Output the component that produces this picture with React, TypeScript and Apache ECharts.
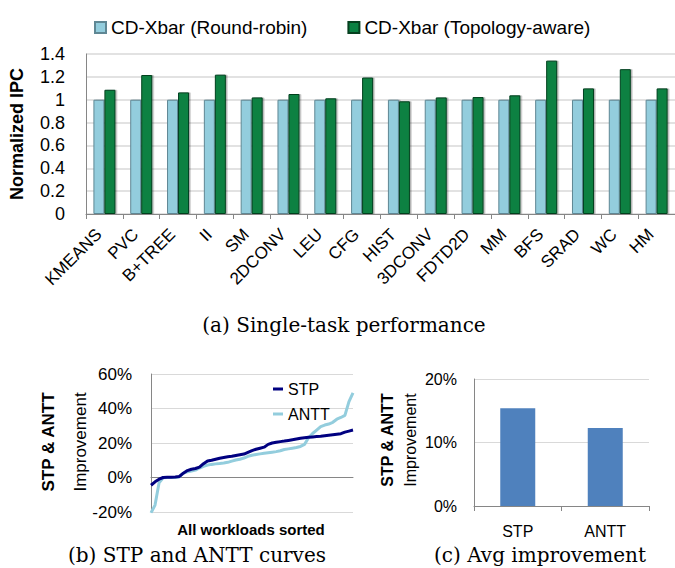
import React, { useEffect, useRef } from 'react';
import * as echarts from 'echarts';

const benchmarks = ['KMEANS', 'PVC', 'B+TREE', 'II', 'SM', '2DCONV', 'LEU', 'CFG', 'HIST', '3DCONV', 'FDTD2D', 'MM', 'BFS', 'SRAD', 'WC', 'HM'];
const roundRobin = [1, 1, 1, 1, 1, 1, 1, 1, 1, 1, 1, 1, 1, 1, 1, 1];
const topologyAware = [1.087, 1.216, 1.064, 1.219, 1.02, 1.05, 1.012, 1.194, 0.986, 1.02, 1.023, 1.038, 1.342, 1.099, 1.267, 1.099];

const stpCurve = [-4.5, -2.5, -1, 0, 0.1, 0.2, 0.3, 0.6, 2.5, 4, 4.8, 5.2, 6, 8, 9.6, 10, 10.6, 11.2, 11.6, 12, 12.3, 12.8, 13.2, 13.6, 14.6, 15.6, 16.4, 17, 17.6, 19.2, 20, 20.4, 20.8, 21.1, 21.5, 21.9, 22.3, 22.7, 23, 23.3, 23.5, 23.7, 23.9, 24.2, 24.5, 24.8, 25.1, 25.4, 26.3, 26.9, 27.5];
const anttCurve = [-20.5, -16, -3, -0.2, 0, 0, 0, 0.3, 2.5, 3.3, 3.8, 4.3, 5.5, 6.5, 7.2, 7.6, 7.9, 8.1, 8.4, 8.8, 9.5, 10.1, 10.6, 11.3, 12.3, 12.9, 13.3, 13.7, 14.1, 14.4, 14.7, 15, 15.5, 16.2, 16.6, 17, 17.4, 18, 19.2, 23, 25.5, 27.5, 29.5, 30.4, 31, 32, 33.8, 34.8, 36, 44, 49];

const avgCategories = ['STP', 'ANTT'];
const avgImprovement = [15.4, 12.3];

const SANS = 'Liberation Sans';
const SERIF = 'DejaVu Serif';
const AXIS_GRAY = '#868686';
const GRID_GRAY = '#d9d9d9';

export default function App() {
  const ref = useRef<HTMLDivElement>(null);

  useEffect(() => {
    document.body.style.margin = '0';
    const chart = echarts.init(ref.current!, null, { renderer: 'svg' });
    const workloads = stpCurve.map((_, i) => String(i + 1));

    const option: any = {
      animation: false,
      backgroundColor: '#ffffff',
      textStyle: { fontFamily: SANS, color: '#000' },
      legend: [
        {
          data: ['CD-Xbar (Round-robin)', 'CD-Xbar (Topology-aware)'],
          left: 89,
          top: 13,
          icon: 'rect',
          itemWidth: 11,
          itemHeight: 11,
          itemGap: 40,
          textStyle: { fontSize: 19, fontFamily: SANS, color: '#000' },
        },
        {
          data: ['STP', 'ANTT'],
          orient: 'vertical',
          left: 268,
          top: 376,
          icon: 'rect',
          itemWidth: 10,
          itemHeight: 3,
          itemGap: 9,
          textStyle: { fontSize: 16, fontFamily: SANS, color: '#000' },
        },
      ],
      grid: [
        { left: 85, top: 54, width: 592, height: 160 },
        { left: 151, top: 374, width: 202, height: 138 },
        { left: 474, top: 379, width: 175, height: 127 },
      ],
      xAxis: [
        {
          gridIndex: 0,
          type: 'category',
          data: benchmarks,
          axisLine: { lineStyle: { color: AXIS_GRAY, width: 1 } },
          axisTick: { show: true, length: 5, lineStyle: { color: AXIS_GRAY } },
          axisLabel: { rotate: 45, interval: 0, fontSize: 17, margin: 12, padding: [0, 8, 0, 0], color: '#000', fontFamily: SANS },
        },
        {
          gridIndex: 1,
          type: 'category',
          data: workloads,
          boundaryGap: false,
          axisLine: { onZero: true, lineStyle: { color: AXIS_GRAY, width: 1 } },
          axisTick: { show: false },
          axisLabel: { show: false },
        },
        {
          gridIndex: 2,
          type: 'category',
          data: avgCategories,
          axisLine: { lineStyle: { color: AXIS_GRAY, width: 1 } },
          axisTick: { show: true, length: 5, lineStyle: { color: AXIS_GRAY } },
          axisLabel: { fontSize: 16, margin: 17, color: '#000', fontFamily: SANS },
        },
      ],
      yAxis: [
        {
          gridIndex: 0,
          type: 'value',
          min: 0,
          max: 1.4,
          interval: 0.2,
          name: 'Normalized IPC',
          nameLocation: 'middle',
          nameGap: 60,
          nameRotate: 90,
          nameTextStyle: { fontSize: 18, fontWeight: 'bold', color: '#000', fontFamily: SANS },
          axisLine: { show: true, lineStyle: { color: AXIS_GRAY, width: 1 } },
          axisTick: { show: false },
          axisLabel: {
            fontSize: 18,
            margin: 21,
            color: '#000',
            fontFamily: SANS,
            formatter: (v: number) => String(Math.round(v * 10) / 10),
          },
          splitLine: { lineStyle: { color: GRID_GRAY, width: 1.5 } },
        },
        {
          gridIndex: 1,
          type: 'value',
          min: -20,
          max: 60,
          interval: 20,
          axisLine: { show: true, lineStyle: { color: AXIS_GRAY, width: 1 } },
          axisTick: { show: false },
          axisLabel: { fontSize: 17, margin: 19, color: '#000', fontFamily: SANS, formatter: '{value}%' },
          splitLine: { lineStyle: { color: GRID_GRAY, width: 1 } },
        },
        {
          gridIndex: 2,
          type: 'value',
          min: 0,
          max: 20,
          interval: 10,
          axisLine: { show: true, lineStyle: { color: AXIS_GRAY, width: 1 } },
          axisTick: { show: false },
          axisLabel: { fontSize: 16, margin: 17, color: '#000', fontFamily: SANS, formatter: '{value}%' },
          splitLine: { lineStyle: { color: GRID_GRAY, width: 1 } },
        },
      ],
      series: [
        {
          name: 'CD-Xbar (Round-robin)',
          type: 'bar',
          xAxisIndex: 0,
          yAxisIndex: 0,
          data: roundRobin,
          barWidth: 11,
          barGap: '0%',
          itemStyle: {
            color: '#93cddd',
            borderColor: '#5f8794',
            borderWidth: 1,
            shadowColor: 'rgba(0,0,0,0.3)',
            shadowOffsetX: 1.5,
            shadowBlur: 1,
          },
        },
        {
          name: 'CD-Xbar (Topology-aware)',
          type: 'bar',
          xAxisIndex: 0,
          yAxisIndex: 0,
          data: topologyAware,
          barWidth: 11,
          barGap: '0%',
          itemStyle: {
            color: '#0a8142',
            borderColor: '#06401f',
            borderWidth: 1,
            shadowColor: 'rgba(0,0,0,0.3)',
            shadowOffsetX: 1.5,
            shadowBlur: 1,
          },
        },
        {
          name: 'STP',
          type: 'line',
          xAxisIndex: 1,
          yAxisIndex: 1,
          data: stpCurve,
          symbol: 'none',
          lineStyle: { color: '#000080', width: 3 },
          itemStyle: { color: '#000080' },
          z: 3,
        },
        {
          name: 'ANTT',
          type: 'line',
          xAxisIndex: 1,
          yAxisIndex: 1,
          data: anttCurve,
          symbol: 'none',
          lineStyle: { color: '#93cddd', width: 3 },
          itemStyle: { color: '#93cddd' },
          z: 2,
        },
        {
          name: 'Avg',
          type: 'bar',
          xAxisIndex: 2,
          yAxisIndex: 2,
          data: avgImprovement,
          barWidth: 35,
          itemStyle: { color: '#4f81bd' },
        },
      ],
      graphic: [
        {
          type: 'text',
          x: 344,
          y: 325,
          style: { text: '(a) Single-task performance', fontFamily: SERIF, fontSize: 20, fill: '#000', align: 'center', verticalAlign: 'middle' },
        },
        {
          type: 'text',
          x: 197,
          y: 555,
          style: { text: '(b) STP and ANTT curves', fontFamily: SERIF, fontSize: 20, fill: '#000', align: 'center', verticalAlign: 'middle' },
        },
        {
          type: 'text',
          x: 540,
          y: 555,
          style: { text: '(c) Avg improvement', fontFamily: SERIF, fontSize: 20, fill: '#000', align: 'center', verticalAlign: 'middle' },
        },
        {
          type: 'text',
          x: 251,
          y: 529,
          style: { text: 'All workloads sorted', fontFamily: SANS, fontSize: 15, fontWeight: 'bold', fill: '#000', align: 'center', verticalAlign: 'middle' },
        },
        {
          type: 'text',
          x: 48,
          y: 442,
          rotation: Math.PI / 2,
          style: { text: 'STP & ANTT', fontFamily: SANS, fontSize: 17, fontWeight: 'bold', fill: '#000', align: 'center', verticalAlign: 'middle' },
        },
        {
          type: 'text',
          x: 80,
          y: 442,
          rotation: Math.PI / 2,
          style: { text: 'Improvement', fontFamily: SANS, fontSize: 17, fill: '#000', align: 'center', verticalAlign: 'middle' },
        },
        {
          type: 'text',
          x: 387,
          y: 440,
          rotation: Math.PI / 2,
          style: { text: 'STP & ANTT', fontFamily: SANS, fontSize: 16, fontWeight: 'bold', fill: '#000', align: 'center', verticalAlign: 'middle' },
        },
        {
          type: 'text',
          x: 410,
          y: 440,
          rotation: Math.PI / 2,
          style: { text: 'Improvement', fontFamily: SANS, fontSize: 16, fill: '#000', align: 'center', verticalAlign: 'middle' },
        },
      ],
    };

    chart.setOption(option);
    return () => chart.dispose();
  }, []);

  return <div ref={ref} style={{ position: 'absolute', left: 0, top: 0, width: 675, height: 568 }} />;
}
